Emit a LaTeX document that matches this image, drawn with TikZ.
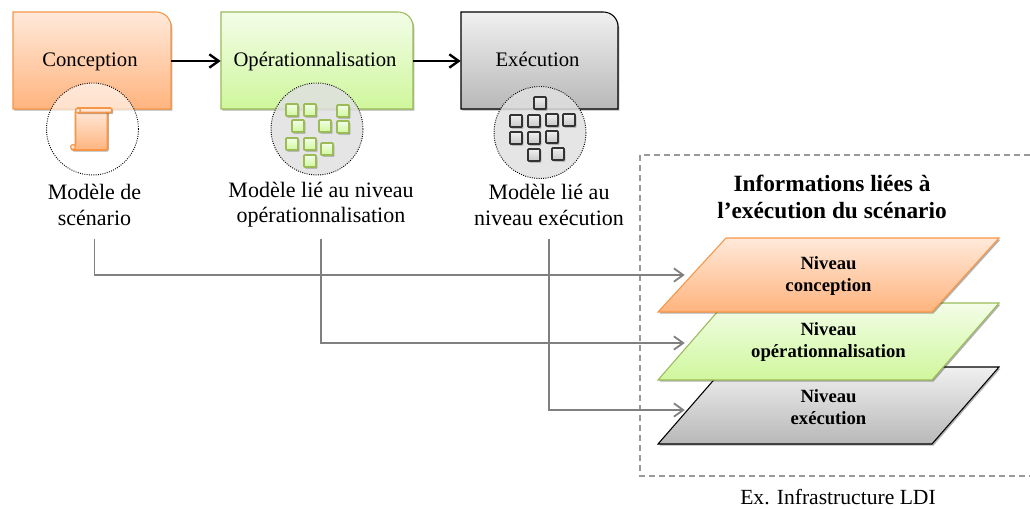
\documentclass[tikz,border=0pt]{standalone}
\usepackage{fontspec}
\setmainfont{Liberation Serif}
\usetikzlibrary{shadows,arrows.meta}
\definecolor{orangeline}{HTML}{F79646}
\definecolor{orangetop}{HTML}{FFE9DA}
\definecolor{orangebot}{HTML}{FFB47E}
\definecolor{greenline}{HTML}{9BBB59}
\definecolor{greentop}{HTML}{F3FDE8}
\definecolor{greenbot}{HTML}{CFF79C}
\definecolor{greytop}{HTML}{F0F0F0}
\definecolor{greybot}{HTML}{B8B8B8}
\definecolor{arrowgrey}{HTML}{808080}
\tikzset{
  softshadow/.style={drop shadow={shadow xshift=1pt,shadow yshift=-1.3pt,opacity=.3,fill=black}},
  orangefill/.style={draw=orangeline,top color=orangetop,bottom color=orangebot},
  greenfill/.style={draw=greenline,top color=greentop,bottom color=greenbot},
  greyfill/.style={draw=black,top color=greytop,bottom color=greybot},
  boxtext/.style={minimum height=72.75pt,inner sep=0pt,text height=11pt,text depth=3.5pt,font=\fontsize{15.5}{18.75}\selectfont},
  modeltext/.style={align=center,inner sep=0pt,minimum height=50pt,font=\fontsize{16.5}{19}\selectfont},
  halo/.style={draw=black,densely dotted,line width=.7pt},
  leveltext/.style={align=center,inner sep=0pt,minimum width=215.25pt,font=\fontsize{14}{16.6}\selectfont\bfseries},
  levelshape/.style={line width=.8pt,softshadow},
  link/.style={-{Straight Barb[length=7pt,width=10pt]},draw=arrowgrey,line width=1.35pt},
  flow/.style={-{Straight Barb[length=7pt,width=10pt]},line width=1.8pt},
}
\begin{document}
\begin{tikzpicture}[x=0.75pt,y=-0.75pt]
	\useasboundingbox (0,0) rectangle (1030,508);

	% boxes
	\draw[orangefill,softshadow,line width=.8pt] (13,109) -- (13,12) [rounded corners=11pt] -- (171,12) [sharp corners] -- (171,109) -- cycle;
	\draw[greenfill,softshadow,line width=.8pt] (221,109) -- (221,12) [rounded corners=11pt] -- (413,12) [sharp corners] -- (413,109) -- cycle;
	\draw[greyfill,softshadow,line width=.8pt] (461,109) -- (461,12) [rounded corners=11pt] -- (618,12) [sharp corners] -- (618,109) -- cycle;
	\node[boxtext,minimum width=118.5pt] (conception) at (92,61) {Conception\kern3pt};
	\node[boxtext,minimum width=144pt] (operationnalisation) at (317,61) {Opérationnalisation\kern3pt};
	\node[boxtext,minimum width=117.75pt] (execution) at (539.5,61) {Exécution\kern3pt};
	\draw[flow] (conception) -- (operationnalisation);
	\draw[flow] (operationnalisation) -- (execution);

	% circles
	\draw[halo,fill=white,fill opacity=.62] (92.5,129) circle (34.5pt);
	\draw[halo,fill=black!12,fill opacity=.85] (317,129) circle (34.5pt);
	\draw[halo,fill=black!12,fill opacity=.85] (540,132.5) circle (34.5pt);

	% scroll
	\draw[orangefill,softshadow,line width=1.2pt,rounded corners=1.5pt] (75.5,110) -- (107.5,110) -- (107.5,150) -- (71,150) -- (75.5,146) -- cycle;
	\draw[draw=orangeline,fill=orangetop,softshadow,line width=1.2pt,rounded corners=1.5pt] (76,108) rectangle (112,112.5);
	\draw[draw=orangeline,fill=orangetop,line width=.9pt] (78,110.5) circle (1.8pt);
	\draw[draw=orangeline,fill=orangetop,line width=.9pt] (73,147) circle (1.8pt);

	% small squares
	\foreach \X/\Y in {292/110,310/110,343/111,298/126,325/126,343/127,292/144,310/144,327/149,310/161}
		\draw[greenfill,softshadow,line width=1.2pt,rounded corners=.5pt] (\X-6,\Y-6) rectangle (\X+6,\Y+6);
	\foreach \X/\Y in {540/103,516/121,534/121,552/120,569/120,516/138,534/138,552/137,534/155,558/154}
		\draw[draw=black!80,top color=greytop,bottom color=black!22,softshadow,line width=1.2pt,rounded corners=.5pt] (\X-6,\Y-6) rectangle (\X+6,\Y+6);

	% models
	\node[modeltext] (modelscenario) at (94.5,205) {Modèle de\\scénario};
	\node[modeltext] (modeloperation) at (321,205) {Modèle lié au niveau\\opérationnalisation};
	\node[modeltext] (modelexecution) at (549,205) {Modèle lié au\\niveau exécution};

	% dashed frame
	\draw[draw=black!40,dash pattern=on 4.5pt off 3pt,line width=.8pt] (1030,155) -- (640,155) -- (640,476) -- (1030,476);
	\node[align=center,inner sep=0,font=\fontsize{17.5}{20.8}\selectfont\bfseries] (infotitle) at (832,197) {Informations liées à\\l’exécution du scénario};
	\node[inner sep=0,font=\fontsize{16.2}{18}\selectfont] (infra) at (838,497) {Ex. Infrastructure LDI};

	% levels
	\draw[greyfill,levelshape] (658,444) -- (725,367) -- (999,367) -- (932,444) -- cycle;
	\draw[greenfill,levelshape] (658,380) -- (725,303) -- (999,303) -- (932,380) -- cycle;
	\draw[orangefill,levelshape] (658,312) -- (726,238) -- (999,238) -- (932,312) -- cycle;
	\node[leveltext] (levelexecution) at (828.5,407) {Niveau\\exécution};
	\node[leveltext] (leveloperation) at (828.5,342) {Niveau\\opérationnalisation};
	\node[leveltext] (levelconception) at (828.5,276) {Niveau\\conception};

	\draw[link] (modelscenario.south) |- ([yshift=.75pt]levelconception.west);
	\draw[link] (modeloperation.south) |- ([yshift=-.75pt]leveloperation.west);
	\draw[link] (modelexecution.south) |- ([yshift=-2.25pt]levelexecution.west);
\end{tikzpicture}
\end{document}
